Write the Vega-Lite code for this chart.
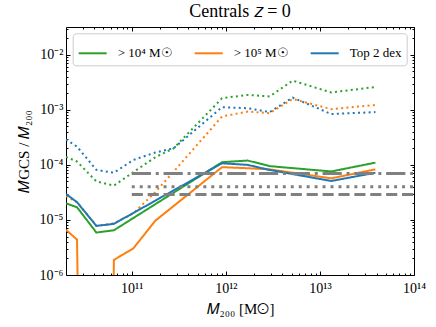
{
  "$schema": "https://vega.github.io/schema/vega-lite/v6.json",
  "autosize": {"type": "none"},
  "padding": {"left": 66, "top": 27, "right": 22, "bottom": 52},
  "width": 348,
  "height": 248,
  "background": "white",
  "title": {"text": "Centrals 𝑧 = 0", "font": "Liberation Serif", "fontSize": 18, "fontWeight": "normal", "color": "black", "offset": 1, "anchor": "middle"},
  "config": {
    "view": {"stroke": null},
    "axis": {"grid": false, "domainColor": "black", "domainWidth": 1, "tickColor": "black", "tickWidth": 1, "labelFont": "Liberation Serif", "labelFontSize": 14, "labelColor": "black", "titleFont": "Liberation Serif", "titleFontSize": 15, "titleFontWeight": "normal", "titleColor": "black", "labelOverlap": false, "labelFlush": false, "labelBound": false},
    "legend": {"orient": "none", "legendX": 6.7, "legendY": 6.3, "direction": "horizontal", "symbolType": "stroke", "symbolSize": 784, "symbolStrokeWidth": 2, "labelFont": "Liberation Serif", "labelFontSize": 13, "labelColor": "black", "labelOffset": 10, "columnPadding": 18, "fillColor": "white", "strokeColor": "#cccccc", "cornerRadius": 3, "padding": 5}
  },
  "resolve": {"axis": {"x": "independent", "y": "independent"}},
  "layer": [
    {
      "data": {"values": [
        {"sel": "> 10⁴ M☉", "style": "solid", "m200": 2.0e10, "ratio": 2.0e-5},
        {"sel": "> 10⁴ M☉", "style": "solid", "m200": 2.62e10, "ratio": 1.7e-5},
        {"sel": "> 10⁴ M☉", "style": "solid", "m200": 4.21e10, "ratio": 5.9e-6},
        {"sel": "> 10⁴ M☉", "style": "solid", "m200": 6.46e10, "ratio": 6.5e-6},
        {"sel": "> 10⁴ M☉", "style": "solid", "m200": 9.12e11, "ratio": 1.12e-4},
        {"sel": "> 10⁴ M☉", "style": "solid", "m200": 1.71e12, "ratio": 1.2e-4},
        {"sel": "> 10⁴ M☉", "style": "solid", "m200": 2.92e12, "ratio": 9.5e-5},
        {"sel": "> 10⁴ M☉", "style": "solid", "m200": 1.32e13, "ratio": 7.6e-5},
        {"sel": "> 10⁴ M☉", "style": "solid", "m200": 3.89e13, "ratio": 1.1e-4},
        {"sel": "> 10⁴ M☉", "style": "dotted", "m200": 2.0e10, "ratio": 1.4e-4},
        {"sel": "> 10⁴ M☉", "style": "dotted", "m200": 2.62e10, "ratio": 1.15e-4},
        {"sel": "> 10⁴ M☉", "style": "dotted", "m200": 4.21e10, "ratio": 5.0e-5},
        {"sel": "> 10⁴ M☉", "style": "dotted", "m200": 6.46e10, "ratio": 4.2e-5},
        {"sel": "> 10⁴ M☉", "style": "dotted", "m200": 1.04e11, "ratio": 7.4e-5},
        {"sel": "> 10⁴ M☉", "style": "dotted", "m200": 1.78e11, "ratio": 1.38e-4},
        {"sel": "> 10⁴ M☉", "style": "dotted", "m200": 2.78e11, "ratio": 2.0e-4},
        {"sel": "> 10⁴ M☉", "style": "dotted", "m200": 9.12e11, "ratio": 1.63e-3},
        {"sel": "> 10⁴ M☉", "style": "dotted", "m200": 1.71e12, "ratio": 1.87e-3},
        {"sel": "> 10⁴ M☉", "style": "dotted", "m200": 2.92e12, "ratio": 1.75e-3},
        {"sel": "> 10⁴ M☉", "style": "dotted", "m200": 5.13e12, "ratio": 3.4e-3},
        {"sel": "> 10⁴ M☉", "style": "dotted", "m200": 1.32e13, "ratio": 2.07e-3},
        {"sel": "> 10⁴ M☉", "style": "dotted", "m200": 3.89e13, "ratio": 2.6e-3},
        {"sel": "> 10⁵ M☉", "style": "solid", "m200": 2.0e10, "ratio": 6.6e-6},
        {"sel": "> 10⁵ M☉", "style": "solid", "m200": 2.62e10, "ratio": 4.4e-6},
        {"sel": "> 10⁵ M☉", "style": "solid", "m200": 4.21e10, "ratio": 1e-30},
        {"sel": "> 10⁵ M☉", "style": "solid", "m200": 6.46e10, "ratio": 1.88e-6},
        {"sel": "> 10⁵ M☉", "style": "solid", "m200": 1.04e11, "ratio": 3.05e-6},
        {"sel": "> 10⁵ M☉", "style": "solid", "m200": 1.78e11, "ratio": 9.7e-6},
        {"sel": "> 10⁵ M☉", "style": "solid", "m200": 9.12e11, "ratio": 9.1e-5},
        {"sel": "> 10⁵ M☉", "style": "solid", "m200": 1.71e12, "ratio": 8.7e-5},
        {"sel": "> 10⁵ M☉", "style": "solid", "m200": 2.92e12, "ratio": 8.3e-5},
        {"sel": "> 10⁵ M☉", "style": "solid", "m200": 1.32e13, "ratio": 5.7e-5},
        {"sel": "> 10⁵ M☉", "style": "solid", "m200": 3.89e13, "ratio": 8.3e-5},
        {"sel": "> 10⁵ M☉", "style": "dotted", "m200": 2.0e10, "ratio": 2.7e-5},
        {"sel": "> 10⁵ M☉", "style": "dotted", "m200": 2.62e10, "ratio": 2.1e-5},
        {"sel": "> 10⁵ M☉", "style": "dotted", "m200": 4.21e10, "ratio": 7.8e-6},
        {"sel": "> 10⁵ M☉", "style": "dotted", "m200": 6.46e10, "ratio": 8.7e-6},
        {"sel": "> 10⁵ M☉", "style": "dotted", "m200": 1.04e11, "ratio": 1.32e-5},
        {"sel": "> 10⁵ M☉", "style": "dotted", "m200": 1.78e11, "ratio": 3.2e-5},
        {"sel": "> 10⁵ M☉", "style": "dotted", "m200": 2.78e11, "ratio": 7.5e-5},
        {"sel": "> 10⁵ M☉", "style": "dotted", "m200": 9.12e11, "ratio": 7.6e-4},
        {"sel": "> 10⁵ M☉", "style": "dotted", "m200": 1.71e12, "ratio": 9.3e-4},
        {"sel": "> 10⁵ M☉", "style": "dotted", "m200": 2.92e12, "ratio": 8.7e-4},
        {"sel": "> 10⁵ M☉", "style": "dotted", "m200": 5.13e12, "ratio": 1.58e-3},
        {"sel": "> 10⁵ M☉", "style": "dotted", "m200": 1.32e13, "ratio": 1.03e-3},
        {"sel": "> 10⁵ M☉", "style": "dotted", "m200": 3.89e13, "ratio": 1.23e-3},
        {"sel": "Top 2 dex", "style": "solid", "m200": 2.0e10, "ratio": 2.97e-5},
        {"sel": "Top 2 dex", "style": "solid", "m200": 2.62e10, "ratio": 2.1e-5},
        {"sel": "Top 2 dex", "style": "solid", "m200": 4.21e10, "ratio": 7.8e-6},
        {"sel": "Top 2 dex", "style": "solid", "m200": 6.46e10, "ratio": 8.5e-6},
        {"sel": "Top 2 dex", "style": "solid", "m200": 9.12e11, "ratio": 1.07e-4},
        {"sel": "Top 2 dex", "style": "solid", "m200": 1.71e12, "ratio": 1.0e-4},
        {"sel": "Top 2 dex", "style": "solid", "m200": 2.92e12, "ratio": 8.1e-5},
        {"sel": "Top 2 dex", "style": "solid", "m200": 1.32e13, "ratio": 5.1e-5},
        {"sel": "Top 2 dex", "style": "solid", "m200": 3.89e13, "ratio": 7.2e-5},
        {"sel": "Top 2 dex", "style": "dotted", "m200": 2.0e10, "ratio": 2.9e-4},
        {"sel": "Top 2 dex", "style": "dotted", "m200": 2.62e10, "ratio": 2.15e-4},
        {"sel": "Top 2 dex", "style": "dotted", "m200": 4.21e10, "ratio": 8.1e-5},
        {"sel": "Top 2 dex", "style": "dotted", "m200": 6.46e10, "ratio": 7.2e-5},
        {"sel": "Top 2 dex", "style": "dotted", "m200": 1.04e11, "ratio": 1.23e-4},
        {"sel": "Top 2 dex", "style": "dotted", "m200": 1.78e11, "ratio": 1.68e-4},
        {"sel": "Top 2 dex", "style": "dotted", "m200": 2.78e11, "ratio": 2.0e-4},
        {"sel": "Top 2 dex", "style": "dotted", "m200": 9.12e11, "ratio": 1.12e-3},
        {"sel": "Top 2 dex", "style": "dotted", "m200": 1.71e12, "ratio": 1.07e-3},
        {"sel": "Top 2 dex", "style": "dotted", "m200": 2.92e12, "ratio": 9.1e-4},
        {"sel": "Top 2 dex", "style": "dotted", "m200": 5.13e12, "ratio": 1.67e-3},
        {"sel": "Top 2 dex", "style": "dotted", "m200": 1.32e13, "ratio": 8.4e-4},
        {"sel": "Top 2 dex", "style": "dotted", "m200": 3.89e13, "ratio": 9.1e-4}
      ]},
      "mark": {"type": "line", "clip": true, "strokeWidth": 2},
      "encoding": {
        "x": {"field": "m200", "type": "quantitative", "scale": {"type": "log", "domain": [2e10, 1e14], "nice": false},
          "axis": {"orient": "bottom", "title": "𝑀₂₀₀ [M☉]", "titlePadding": 4,
            "values": [3e10,4e10,5e10,6e10,7e10,8e10,9e10,1e11,2e11,3e11,4e11,5e11,6e11,7e11,8e11,9e11,1e12,2e12,3e12,4e12,5e12,6e12,7e12,8e12,9e12,1e13,2e13,3e13,4e13,5e13,6e13,7e13,8e13,9e13,1e14],
            "tickSize": {"condition": {"test": "indexof([1e11,1e12,1e13,1e14], datum.value) >= 0", "value": -4}, "value": -2},
            "labelPadding": 10,
            "labelExpr": "datum.value == 1e11 ? '10¹¹' : datum.value == 1e12 ? '10¹²' : datum.value == 1e13 ? '10¹³' : datum.value == 1e14 ? '10¹⁴' : ''"}},
        "y": {"field": "ratio", "type": "quantitative", "scale": {"type": "log", "domain": [1e-6, 3.2e-2], "nice": false},
          "axis": {"orient": "left", "title": "𝑀GCS / 𝑀₂₀₀", "titlePadding": 8,
            "values": [1e-6,2e-6,3e-6,4e-6,5e-6,6e-6,7e-6,8e-6,9e-6,1e-5,2e-5,3e-5,4e-5,5e-5,6e-5,7e-5,8e-5,9e-5,1e-4,2e-4,3e-4,4e-4,5e-4,6e-4,7e-4,8e-4,9e-4,1e-3,2e-3,3e-3,4e-3,5e-3,6e-3,7e-3,8e-3,9e-3,1e-2,2e-2,3e-2],
            "tickSize": {"condition": {"test": "indexof([1e-6,1e-5,1e-4,1e-3,1e-2], datum.value) >= 0", "value": -4}, "value": -2},
            "labelPadding": 7,
            "labelExpr": "datum.value == 1e-2 ? '10⁻²' : datum.value == 1e-3 ? '10⁻³' : datum.value == 1e-4 ? '10⁻⁴' : datum.value == 1e-5 ? '10⁻⁵' : datum.value == 1e-6 ? '10⁻⁶' : ''"}},
        "color": {"field": "sel", "type": "nominal", "scale": {"domain": ["> 10⁴ M☉", "> 10⁵ M☉", "Top 2 dex"], "range": ["#2ca02c", "#ff7f0e", "#1f77b4"]}, "legend": {"title": null}},
        "strokeDash": {"field": "style", "type": "nominal", "scale": {"domain": ["solid", "dotted"], "range": [[1, 0], [2, 3.3]]}, "legend": null}
      }
    },
    {
      "data": {"values": [{"x1": 1e11, "x2": 1e14, "y": 7e-5}]},
      "mark": {"type": "rule", "clip": true, "color": "#808080", "strokeWidth": 3, "strokeDash": [19.2, 4.8, 3, 4.8]},
      "encoding": {
        "x": {"field": "x1", "type": "quantitative", "scale": {"type": "log", "domain": [2e10, 1e14], "nice": false},
          "axis": {"orient": "top", "labels": false, "title": null,
            "values": [3e10,4e10,5e10,6e10,7e10,8e10,9e10,1e11,2e11,3e11,4e11,5e11,6e11,7e11,8e11,9e11,1e12,2e12,3e12,4e12,5e12,6e12,7e12,8e12,9e12,1e13,2e13,3e13,4e13,5e13,6e13,7e13,8e13,9e13,1e14],
            "tickSize": {"condition": {"test": "indexof([1e11,1e12,1e13,1e14], datum.value) >= 0", "value": -4}, "value": -2}}},
        "x2": {"field": "x2"},
        "y": {"field": "y", "type": "quantitative", "scale": {"type": "log", "domain": [1e-6, 3.2e-2], "nice": false},
          "axis": {"orient": "right", "labels": false, "title": null,
            "values": [1e-6,2e-6,3e-6,4e-6,5e-6,6e-6,7e-6,8e-6,9e-6,1e-5,2e-5,3e-5,4e-5,5e-5,6e-5,7e-5,8e-5,9e-5,1e-4,2e-4,3e-4,4e-4,5e-4,6e-4,7e-4,8e-4,9e-4,1e-3,2e-3,3e-3,4e-3,5e-3,6e-3,7e-3,8e-3,9e-3,1e-2,2e-2,3e-2],
            "tickSize": {"condition": {"test": "indexof([1e-6,1e-5,1e-4,1e-3,1e-2], datum.value) >= 0", "value": -4}, "value": -2}}}
      }
    },
    {
      "data": {"values": [{"x1": 1e11, "x2": 1e14, "y": 4e-5}]},
      "mark": {"type": "rule", "clip": true, "color": "#808080", "strokeWidth": 3, "strokeDash": [3, 4.95]},
      "encoding": {
        "x": {"field": "x1", "type": "quantitative", "scale": {"type": "log", "domain": [2e10, 1e14], "nice": false}, "axis": null},
        "x2": {"field": "x2"},
        "y": {"field": "y", "type": "quantitative", "scale": {"type": "log", "domain": [1e-6, 3.2e-2], "nice": false}, "axis": null}
      }
    },
    {
      "data": {"values": [{"x1": 1e11, "x2": 1e14, "y": 2.9e-5}]},
      "mark": {"type": "rule", "clip": true, "color": "#808080", "strokeWidth": 3, "strokeDash": [11.1, 4.8]},
      "encoding": {
        "x": {"field": "x1", "type": "quantitative", "scale": {"type": "log", "domain": [2e10, 1e14], "nice": false}, "axis": null},
        "x2": {"field": "x2"},
        "y": {"field": "y", "type": "quantitative", "scale": {"type": "log", "domain": [1e-6, 3.2e-2], "nice": false}, "axis": null}
      }
    }
  ]
}
